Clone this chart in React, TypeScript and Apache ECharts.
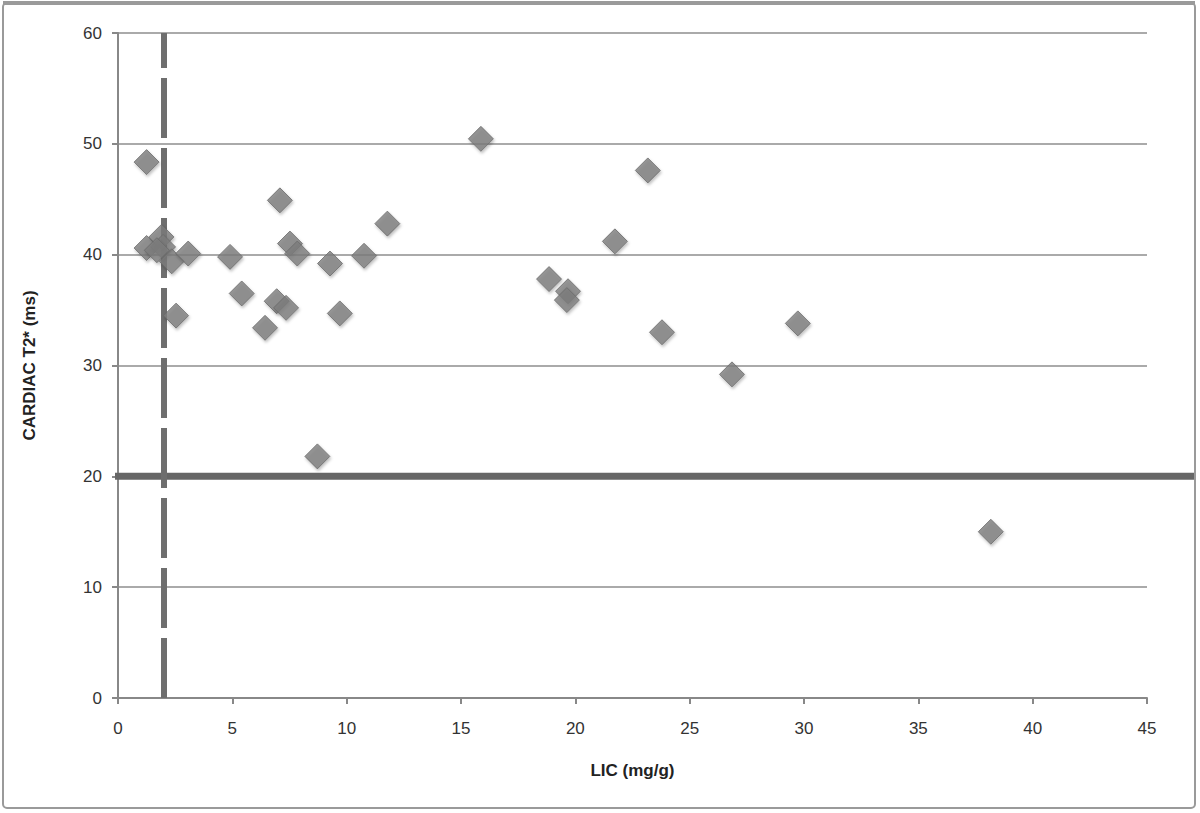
import React, { useEffect, useRef } from "react";
import * as echarts from "echarts";

const lic: number[] = [1.25, 7.08, 1.25, 1.9, 1.97, 1.7, 2.35, 3.07, 4.9, 7.52, 7.84, 9.27, 5.41, 6.94, 7.35, 6.43, 9.7, 2.54, 11.78, 10.76, 8.72, 15.87, 18.85, 19.68, 19.63, 21.73, 23.17, 23.79, 26.85, 29.73, 38.17];
const t2: number[] = [48.35, 44.9, 40.6, 41.6, 40.7, 40.4, 39.4, 40.1, 39.8, 41.0, 40.1, 39.2, 36.5, 35.8, 35.2, 33.4, 34.7, 34.5, 42.8, 39.9, 21.8, 50.45, 37.8, 36.7, 35.9, 41.2, 47.6, 33.0, 29.2, 33.8, 15.0];
const xTicks = { min: 0, max: 45, interval: 5 };
const yTicks = { min: 0, max: 60, interval: 10 };
const licThreshold = 2.0;
const t2Threshold = 20;

export default function App() {
  const ref = useRef<HTMLDivElement>(null);
  useEffect(() => {
    if (!ref.current) return;
    const chart = echarts.init(ref.current, null, { renderer: "svg" });
    const data = lic.map((x, i) => [x, t2[i]]);
    const font = "'Liberation Sans Narrow', 'Liberation Sans', Arial, sans-serif";
    chart.setOption({
      animation: false,
      backgroundColor: "#ffffff",
      grid: { left: 118, right: 53, top: 33, bottom: 115 },
      xAxis: {
        type: "value",
        min: xTicks.min,
        max: xTicks.max,
        interval: xTicks.interval,
        name: "LIC (mg/g)",
        nameLocation: "middle",
        nameGap: 64,
        nameTextStyle: { fontFamily: font, fontWeight: "bold", fontSize: 17, color: "#222" },
        axisLine: { lineStyle: { color: "#888", width: 2 } },
        axisTick: { show: true, length: 6, lineStyle: { color: "#888", width: 2 } },
        axisLabel: { fontFamily: font, fontSize: 17, color: "#333", margin: 22 },
        splitLine: { show: false },
      },
      yAxis: {
        type: "value",
        min: yTicks.min,
        max: yTicks.max,
        interval: yTicks.interval,
        name: "CARDIAC T2* (ms)",
        nameLocation: "middle",
        nameGap: 80,
        nameRotate: 90,
        nameTextStyle: { fontFamily: font, fontWeight: "bold", fontSize: 17, color: "#222" },
        axisLine: { show: true, lineStyle: { color: "#888", width: 2 } },
        axisTick: { show: true, length: 6, lineStyle: { color: "#888", width: 2 } },
        axisLabel: { fontFamily: font, fontSize: 17, color: "#333", margin: 16 },
        splitLine: { show: true, lineStyle: { color: "#aaa", width: 2 } },
      },
      series: [
        {
          type: "scatter",
          data,
          symbol: "diamond",
          symbolSize: 25,
          z: 3,
          itemStyle: {
            color: "#7d7d7d",
            borderColor: "#6a6a6a",
            borderWidth: 1,
            shadowColor: "rgba(0,0,0,0.3)",
            shadowBlur: 3,
            shadowOffsetX: 1,
            shadowOffsetY: 2,
          },
          markLine: {
            silent: true,
            symbol: "none",
            label: { show: false },
            z: 2,
            data: [
              [
                { coord: [licThreshold, yTicks.min], lineStyle: { color: "#6e6e6e", width: 6, type: [60, 10] } },
                { coord: [licThreshold, yTicks.max] },
              ],
            ],
          },
        },
      ],
    });
    const p0 = chart.convertToPixel({ gridIndex: 0 }, [0, t2Threshold]) as number[];
    chart.setOption({
      graphic: [
        {
          type: "rect",
          shape: { x: 3, y: 3, width: 1192, height: 805, r: 4 },
          style: { fill: "none", stroke: "#9a9a9a", lineWidth: 2 },
          silent: true,
          z: 0,
        },
        {
          type: "line",
          shape: { x1: 3, y1: 3, x2: 1195, y2: 3 },
          style: { stroke: "#9a9a9a", lineWidth: 4 },
          silent: true,
          z: 0,
        },
        {
          type: "line",
          shape: { x1: p0[0] - 3, y1: p0[1], x2: 1194, y2: p0[1] },
          style: { stroke: "#666", lineWidth: 7 },
          silent: true,
          z: 1,
        },
      ],
    });
    return () => chart.dispose();
  }, []);
  return (
    <div
      ref={ref}
      style={{ position: "fixed", left: 0, top: 0, width: 1200, height: 813 }}
    />
  );
}
